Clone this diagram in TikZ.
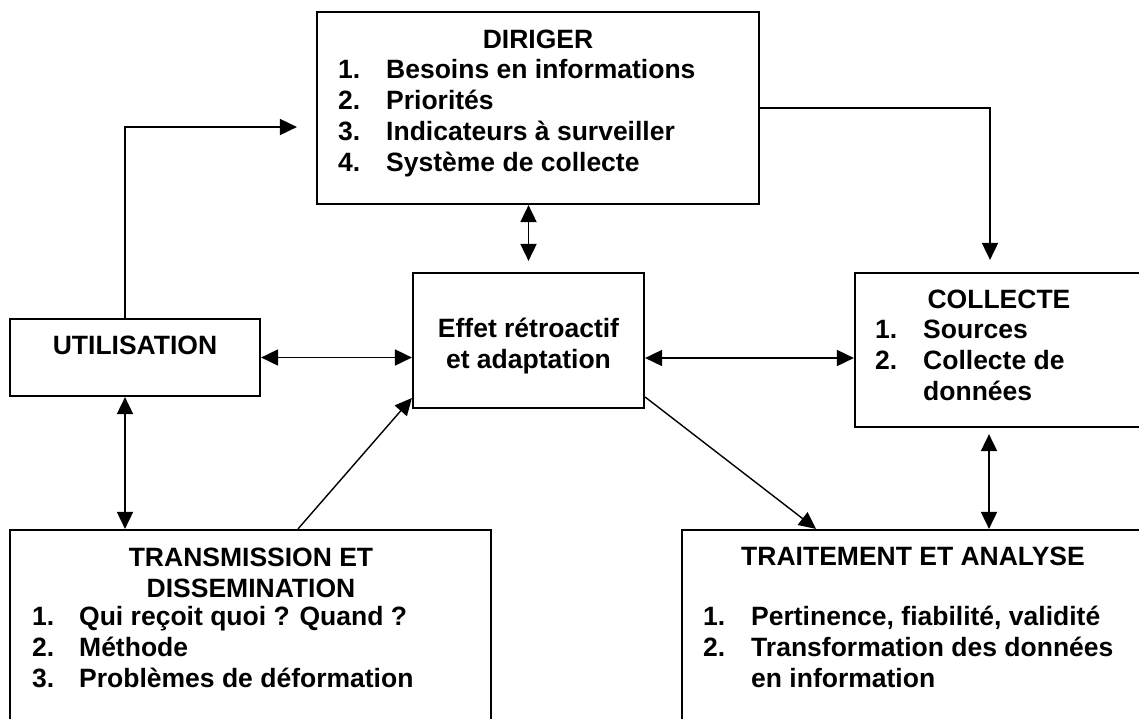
\documentclass[tikz,border=0pt]{standalone}
\usepackage{fontspec}
\setmainfont{Liberation Sans}
\usetikzlibrary{arrows.meta,calc}
\newcommand{\bigfont}{\fontsize{26.5}{31}\selectfont\bfseries}
\begin{document}
\begin{tikzpicture}[x=1pt,y=-1pt,
  box/.style={draw, line width=2.2pt, inner sep=0pt, fill=none},
  txt/.style={inner sep=0pt, font=\bigfont},
  arr/.style={line width=1.8pt, -{Triangle[length=17pt,width=16pt]}},
  darr/.style={line width=1.8pt, {Triangle[length=17pt,width=16pt]}-{Triangle[length=17pt,width=16pt]}},
  thinarr/.style={line width=1.4pt, -{Triangle[length=17pt,width=16pt]}}]
\useasboundingbox (0,0) rectangle (1139,718);
\clip (0,0) rectangle (1139,718);
\fill[white] (0,0) rectangle (1139,718);
% boxes
\node[box, minimum width=442pt, minimum height=192pt] (dir) at (538,108) {};
\node[box, minimum width=250pt, minimum height=77pt] (uti) at (135,357.5) {};
\node[box, minimum width=231pt, minimum height=135pt] (eff) at (528.5,340.5) {};
\node[box, minimum width=288pt, minimum height=154pt] (col) at (999,350) {};
\node[box, minimum width=481pt, minimum height=240pt] (tra) at (250.5,650) {};
\node[box, minimum width=462pt, minimum height=240pt] (trt) at (913,650) {};
% texts
\node[txt, anchor=base] (dirT) at (538,48) {DIRIGER};
\node[txt, anchor=base west] (dirL) at (338,78) {\bigfont\begin{tabular}[t]{@{}p{48pt}@{}l@{}}
1. & Besoins en informations\\
2. & Priorités\\
3. & Indicateurs à surveiller\\
4. & Système de collecte
\end{tabular}};
\node[txt, anchor=base] (utiT) at (135,354) {UTILISATION};
\node[txt, anchor=base] (effT) at (528.5,337) {\bigfont\begin{tabular}[t]{@{}c@{}}
Effet rétroactif\\
et adaptation
\end{tabular}};
\node[txt, anchor=base] (colT) at (999,308) {COLLECTE};
\node[txt, anchor=base west] (colL) at (875,338) {\bigfont\begin{tabular}[t]{@{}p{48pt}@{}l@{}}
1. & Sources\\
2. & Collecte de\\
 & données
\end{tabular}};
\node[txt, anchor=base] (traT) at (251,566) {\bigfont\begin{tabular}[t]{@{}c@{}}
TRANSMISSION ET\\
DISSEMINATION
\end{tabular}};
\node[txt, anchor=base west] (traL) at (32,625) {\bigfont\begin{tabular}[t]{@{}p{47pt}@{}l@{}}
1. & Qui reçoit quoi ? Quand ?\\
2. & Méthode\\
3. & Problèmes de déformation
\end{tabular}};
\node[txt, anchor=base] (trtT) at (913,565) {TRAITEMENT ET ANALYSE};
\node[txt, anchor=base west] (trtL) at (703,625) {\bigfont\begin{tabular}[t]{@{}p{48pt}@{}l@{}}
1. & Pertinence, fiabilité, validité\\
2. & Transformation des données\\
 & en information
\end{tabular}};
% connectors
\draw[arr, shorten >=19pt] (uti.north -| 125,0) |- (dir.west |- 0,127);
\draw[arr, shorten >=12pt] (dir.east) -| (col.north -| 990,0);
\draw[darr, shorten >=11pt] (eff.north |- dir.south) -- (eff.north);
\draw[darr] (uti.east) -- (eff.west |- uti.east);
\draw[darr] (eff.east |- 0,358) -- (col.west |- 0,358);
\draw[darr] (uti.south -| 125,0) -- (tra.north -| 125,0);
\draw[thinarr] (tra.north -| 298,0) -- (eff.west |- 0,398);
\draw[thinarr] (eff.east |- 0,397) -- (trt.north -| 816,0);
\draw[darr, shorten <=6pt] (col.south -| 989,0) -- (trt.north -| 989,0);
\end{tikzpicture}
\end{document}
